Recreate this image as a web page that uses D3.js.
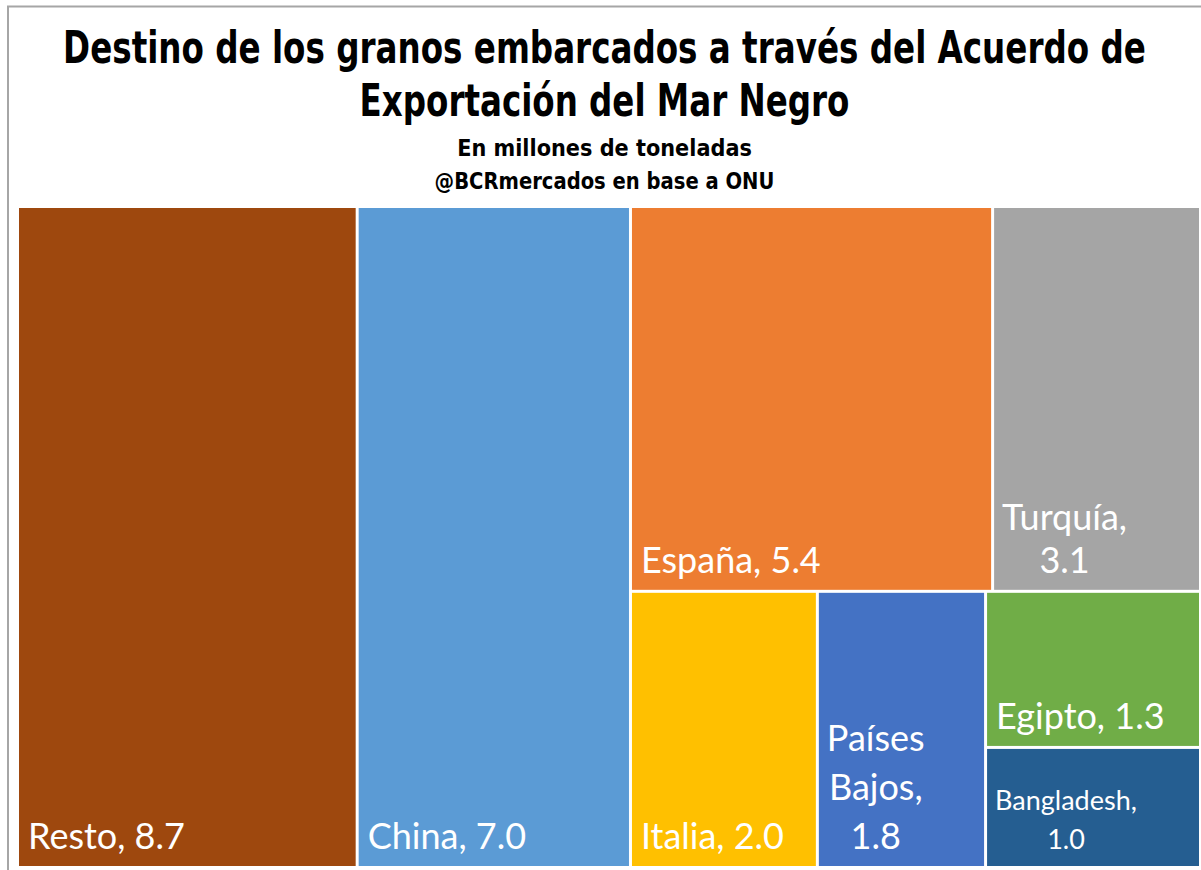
<!DOCTYPE html>
<html>
<head>
<meta charset="utf-8">
<script src="https://cdn.jsdelivr.net/npm/d3@7"></script>
<style>
  body { margin: 0; background: #fff; }
</style>
</head>
<body>
<div id="chart"></div>
<script>
// Datos (millones de toneladas)
const paises = ["Resto", "China", "España", "Turquía", "Italia", "Países Bajos", "Egipto", "Bangladesh"];
const valores = [8.7, 7.0, 5.4, 3.1, 2.0, 1.8, 1.3, 1.0];
const colores = ["#9E480E", "#5B9BD5", "#ED7D31", "#A5A5A5", "#FFC000", "#4472C4", "#70AD47", "#255E91"];
// cuántas líneas ocupa cada etiqueta
const lineasEtiqueta = [1, 1, 1, 2, 1, 3, 1, 2];
// agrupación del treemap (índices de paises)
const grupos = [0, 1, [[2, 3], [4, 5, [6, 7]]]];

const titulo = ["Destino de los granos embarcados a través del Acuerdo de", "Exportación del Mar Negro"];
const subtitulo = ["En millones de toneladas", "@BCRmercados en base a ONU"];

const width = 1201, height = 870;
const area = { x0: 19, y0: 208, x1: 1199, y1: 866 };

const svg = d3.select("#chart").append("svg")
  .attr("width", width)
  .attr("height", height);

// marco gris
svg.append("rect")
  .attr("x", 8).attr("y", 6.5)
  .attr("width", width).attr("height", height)
  .attr("fill", "none")
  .attr("stroke", "#a6a6a6")
  .attr("stroke-width", 2);

// títulos (fuente condensada: se estira al ancho del original)
const tituloFont = "'Liberation Sans Narrow', 'DejaVu Sans Condensed', sans-serif";
const titLineas = [
  { t: titulo[0], y: 63, size: 45, w: 1083 },
  { t: titulo[1], y: 116, size: 45, w: 490 },
  { t: subtitulo[0], y: 156, size: 23, w: 295 },
  { t: subtitulo[1], y: 189, size: 23, w: 340 }
];
svg.selectAll("text.titulo")
  .data(titLineas)
  .join("text")
  .attr("class", "titulo")
  .attr("text-anchor", "middle")
  .attr("font-family", tituloFont)
  .attr("font-weight", "bold")
  .attr("font-size", d => d.size)
  .attr("fill", "#000")
  .text(d => d.t)
  .attr("transform", function(d) {
    const k = d.w / this.getComputedTextLength();
    return `translate(${width / 2 + 4},${d.y}) scale(${k},1)`;
  });

// jerarquía
function nodo(g) {
  if (Array.isArray(g)) return { children: g.map(nodo) };
  return { idx: g, name: paises[g], value: valores[g] };
}
const root = d3.hierarchy(nodo(grupos))
  .sum(d => d.value || 0);

d3.treemap()
  .tile(d3.treemapSliceDice)
  .size([area.x1 - area.x0, area.y1 - area.y0])
  .paddingInner(3)
  .round(false)(root);

const hojas = svg.append("g")
  .attr("transform", `translate(${area.x0},${area.y0})`)
  .selectAll("g")
  .data(root.leaves())
  .join("g");

hojas.append("rect")
  .attr("x", d => d.x0)
  .attr("y", d => d.y0)
  .attr("width", d => d.x1 - d.x0)
  .attr("height", d => d.y1 - d.y0)
  .attr("fill", d => colores[d.data.idx]);

const fmt = d3.format(".1f");

hojas.each(function(d) {
  const g = d3.select(this);
  const n = lineasEtiqueta[d.data.idx];
  const palabras = (d.data.name + ",").split(" ").concat(fmt(d.data.value));
  const lineas = n === 1 ? [palabras.join(" ")] : palabras;
  const size = d.data.value < 1.2 ? 27 : 36;
  const lh = d.data.value < 1.2 ? 39 : (n === 3 ? 49 : 43);

  const txt = g.append("text")
    .attr("font-family", "Lato, 'Open Sans', sans-serif")
    .attr("font-size", size)
    .attr("fill", "#fff")
    .attr("text-anchor", n === 1 ? "start" : "middle");

  const spans = txt.selectAll("tspan")
    .data(lineas)
    .join("tspan")
    .attr("y", (t, i) => d.y1 - 17 - (lineas.length - 1 - i) * lh)
    .text(t => t);

  let maxW = 0;
  spans.each(function() { maxW = Math.max(maxW, this.getComputedTextLength()); });
  spans.attr("x", n === 1 ? d.x0 + 9 : d.x0 + 8 + maxW / 2);
});
</script>
</body>
</html>
